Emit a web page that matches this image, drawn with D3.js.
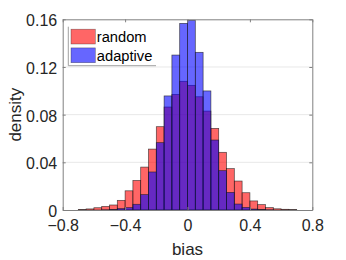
<!DOCTYPE html>
<html>
<head>
<meta charset="utf-8">
<script src="https://cdn.jsdelivr.net/npm/d3@7"></script>
<style>
  body { margin: 0; background: #fff; }
  svg { font-family: "Liberation Sans", Arial, sans-serif; }
</style>
</head>
<body>
<div id="chart"></div>
<script>
// left edges of the histogram bins (width 0.05)
var binLeft = [-0.7, -0.65, -0.6, -0.55, -0.5, -0.45, -0.4, -0.35, -0.3, -0.25,
               -0.2, -0.15, -0.1, -0.05, 0, 0.05, 0.1, 0.15, 0.2, 0.25,
               0.3, 0.35, 0.4, 0.45, 0.5, 0.55, 0.6, 0.65];
var binWidth = 0.05;
var randomDensity = [0.0004, 0.0009, 0.0019, 0.003, 0.0042, 0.0081, 0.0161, 0.0248, 0.036, 0.0511,
                     0.0699, 0.0864, 0.097, 0.108, 0.1046, 0.095, 0.083, 0.0685, 0.0484, 0.0347,
                     0.0243, 0.0145, 0.0076, 0.0045, 0.002, 0.001, 0.0006, 0.0003];
var adaptiveDensity = [0, 0, 0, 0.0001, 0.0004, 0.0012, 0.002, 0.0048, 0.0129, 0.0319,
                       0.0565, 0.0957, 0.130, 0.1566, 0.1592, 0.1323, 0.0999, 0.0587, 0.033, 0.0148,
                       0.005, 0.0022, 0.0008, 0.0003, 0.0001, 0, 0, 0];
var xTicks = [-0.8, -0.4, 0, 0.4, 0.8];
var yTicks = [0, 0.04, 0.08, 0.12, 0.16];
var seriesNames = ["random", "adaptive"];
var seriesColors = ["#ff0000", "#0000ff"];

var W = 346, H = 260;
var margin = {top: 19.3, right: 33.7, bottom: 50, left: 62.7},
    width = W - margin.left - margin.right,
    height = H - margin.top - margin.bottom;

var svg = d3.select("#chart").append("svg")
    .attr("width", W)
    .attr("height", H);

var g = svg.append("g")
    .attr("transform", "translate(" + margin.left + "," + margin.top + ")");

var xScale = d3.scaleLinear().domain([-0.8, 0.8]).range([0, width]);
var yScale = d3.scaleLinear().domain([0, 0.16]).range([height, 0]);

// grid lines
g.append("g").selectAll("line")
    .data(yTicks.slice(1, -1))
    .enter().append("line")
    .attr("x1", 0).attr("x2", width)
    .attr("y1", function(d) { return yScale(d); })
    .attr("y2", function(d) { return yScale(d); })
    .attr("stroke", "#e8e8e8")
    .attr("stroke-width", 1);

// histograms, random first then adaptive on top
[randomDensity, adaptiveDensity].forEach(function(series, s) {
    var bins = binLeft.map(function(x0, i) { return {x0: x0, v: series[i]}; })
        .filter(function(d) { return d.v > 0; });
    g.append("g").selectAll("rect")
        .data(bins)
        .enter().append("rect")
        .attr("x", function(d) { return xScale(d.x0); })
        .attr("width", function(d) { return xScale(d.x0 + binWidth) - xScale(d.x0); })
        .attr("y", function(d) { return yScale(d.v); })
        .attr("height", function(d) { return yScale(0) - yScale(d.v); })
        .attr("fill", seriesColors[s])
        .attr("fill-opacity", 0.6)
        .attr("stroke", "#1a1a1a")
        .attr("stroke-opacity", 0.75)
        .attr("stroke-width", 0.7);
});

// axes (ticks point inward like MATLAB)
function styleAxis(sel) {
    sel.select(".domain").attr("stroke", "#808080");
    sel.selectAll(".tick line").attr("stroke", "#808080");
    sel.selectAll(".tick text").attr("fill", "#262626").attr("font-size", 16);
}

var xAxis = g.append("g")
    .attr("transform", "translate(0," + height + ")")
    .call(d3.axisBottom(xScale).tickValues(xTicks).tickSizeInner(-3).tickSizeOuter(0)
        .tickPadding(10).tickFormat(d3.format("")))
    .call(styleAxis);

var yAxis = g.append("g")
    .call(d3.axisLeft(yScale).tickValues(yTicks).tickSizeInner(-3).tickSizeOuter(0)
        .tickPadding(5.5).tickFormat(d3.format("")))
    .call(styleAxis);
yAxis.selectAll(".tick text").attr("dy", "0.4em");

g.append("g")
    .attr("transform", "translate(" + width + ",0)")
    .call(d3.axisRight(yScale).tickValues(yTicks).tickSizeInner(-3).tickSizeOuter(0).tickFormat(""))
    .call(styleAxis);

g.append("g")
    .call(d3.axisTop(xScale).tickValues(xTicks).tickSizeInner(-3).tickSizeOuter(0).tickFormat(""))
    .call(styleAxis);

// axis labels
svg.append("text")
    .attr("x", margin.left + width / 2)
    .attr("y", 255)
    .attr("text-anchor", "middle")
    .attr("font-size", 17)
    .attr("fill", "#262626")
    .text("bias");

svg.append("text")
    .attr("transform", "translate(20.5," + (margin.top + height / 2) + ") rotate(-90)")
    .attr("text-anchor", "middle")
    .attr("font-size", 17)
    .attr("fill", "#262626")
    .text("density");

// legend
var legend = svg.append("g").attr("transform", "translate(68.3,26.7)");
legend.append("rect")
    .attr("width", 87.7).attr("height", 39)
    .attr("fill", "#fff");
legend.append("path")
    .attr("d", "M0,0V39H87.7")
    .attr("fill", "none")
    .attr("stroke", "#a0a0a0")
    .attr("stroke-width", 1);

seriesNames.forEach(function(name, i) {
    legend.append("rect")
        .attr("x", 2.7).attr("y", 2.5 + i * 18.7)
        .attr("width", 24.3).attr("height", 14.8)
        .attr("fill", seriesColors[i])
        .attr("fill-opacity", 0.6)
        .attr("stroke", "#1a1a1a")
        .attr("stroke-opacity", 0.5)
        .attr("stroke-width", 0.6);
    legend.append("text")
        .attr("x", 28.5).attr("y", 15.6 + i * 18.5)
        .attr("font-size", 14.7)
        .attr("fill", "#000")
        .text(name);
});
</script>
</body>
</html>
